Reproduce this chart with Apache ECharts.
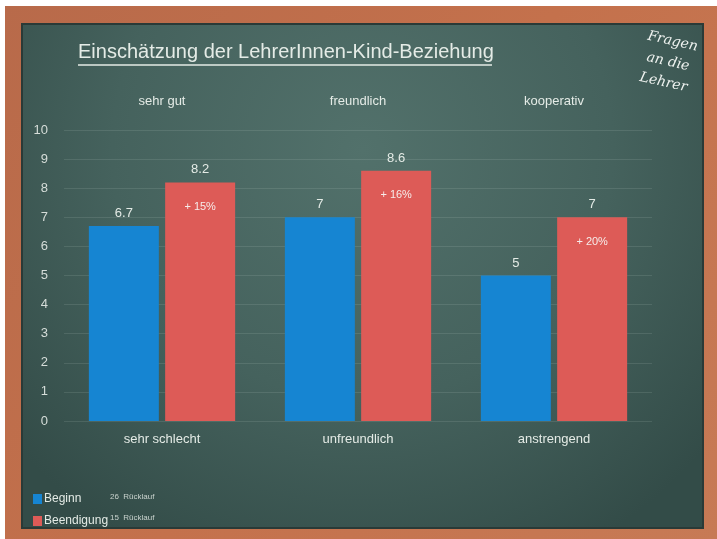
<!DOCTYPE html>
<html>
<head>
<meta charset="utf-8">
<script src="https://cdn.jsdelivr.net/npm/echarts@6/dist/echarts.min.js"></script>
<style>
  html, body { margin: 0; padding: 0; background: #ffffff; }
  #chart { width: 717px; height: 539px; }
</style>
</head>
<body>
<div id="chart"></div>
<script>
// Ratings at the start and at the end, per dimension (scale 0–10)
const lowLabels = ['sehr schlecht', 'unfreundlich', 'anstrengend'];
const highLabels = ['sehr gut', 'freundlich', 'kooperativ'];
const beginValues = [6.7, 7, 5];
const endValues = [8.2, 8.6, 7];
const changeLabels = ['+ 15%', '+ 16%', '+ 20%'];
const seriesNames = ['Beginn', 'Beendigung'];
const returnNotes = ['26  Rücklauf', '15  Rücklauf'];
const yTicks = [0, 1, 2, 3, 4, 5, 6, 7, 8, 9, 10];
// zero-height caps stacked on the end bars carry their value labels
const capValues = [0, 0, 0];

const chalk = '#e4ebe6';
const blue = '#1685d2';
const red = '#dd5b57';

const chart = echarts.init(document.getElementById('chart'));

chart.setOption({
  backgroundColor: '#ffffff',
  animation: false,
  textStyle: { fontFamily: 'Liberation Sans, Arial, sans-serif' },
  graphic: [
    // wooden frame
    { type: 'rect', z: -10, silent: true,
      shape: { x: 5, y: 6, width: 712, height: 533 },
      style: { fill: new echarts.graphic.LinearGradient(0, 0, 1, 1, [
        { offset: 0, color: '#b86a4a' }, { offset: 0.5, color: '#c4714c' }, { offset: 1, color: '#c77a55' }]) } },
    // chalkboard
    { type: 'rect', z: -9, silent: true,
      shape: { x: 22, y: 24, width: 681, height: 504 },
      style: {
        fill: new echarts.graphic.RadialGradient(0.5, 0.25, 0.9, [
          { offset: 0, color: '#52716b' },
          { offset: 0.55, color: '#45625d' },
          { offset: 1, color: '#334c48' }]),
        stroke: '#2a3a37', lineWidth: 2 } },
    // title with underline
    { type: 'text', z: 10, left: 78, top: 42,
      style: { text: 'Einschätzung der LehrerInnen-Kind-Beziehung', fill: chalk,
        font: '20px Liberation Sans, Arial, sans-serif' } },
    { type: 'line', z: 10, silent: true,
      shape: { x1: 78, y1: 65, x2: 492, y2: 65 },
      style: { stroke: chalk, lineWidth: 1.5 } },
    // chalk note in the corner
    { type: 'text', z: 10, x: 668, y: 62, rotation: -0.22, originX: 0, originY: 0,
      style: { text: 'Fragen\nan die\nLehrer', fill: '#eef2ef', align: 'center', verticalAlign: 'middle',
        lineHeight: 21, font: 'italic 14px DejaVu Serif, serif' } },
    // return counts beside the legend
    { type: 'text', z: 10, left: 110, top: 493,
      style: { text: returnNotes[0], fill: '#c9d2cd', font: '8px Liberation Sans, Arial, sans-serif' } },
    { type: 'text', z: 10, left: 110, top: 514,
      style: { text: returnNotes[1], fill: '#c9d2cd', font: '8px Liberation Sans, Arial, sans-serif' } }
  ],
  legend: {
    orient: 'vertical', left: 28, top: 488,
    itemWidth: 9, itemHeight: 10, itemGap: 10, icon: 'rect',
    textStyle: { color: chalk, fontSize: 12, padding: [0, 0, 0, -3] },
    data: seriesNames
  },
  grid: { left: 64, right: 65, top: 130, bottom: 118 },
  xAxis: [
    { type: 'category', data: lowLabels, position: 'bottom',
      axisLine: { show: false }, axisTick: { show: false },
      axisLabel: { color: chalk, fontSize: 13, margin: 12 } },
    { type: 'category', data: highLabels, position: 'top',
      axisLine: { show: false }, axisTick: { show: false },
      axisLabel: { color: chalk, fontSize: 13, margin: 22 } }
  ],
  yAxis: {
    type: 'value', min: yTicks[0], max: yTicks[yTicks.length - 1], interval: 1,
    axisLine: { show: false }, axisTick: { show: false },
    axisLabel: { color: '#d6ddd9', fontSize: 13, margin: 16 },
    splitLine: { lineStyle: { color: 'rgba(210,225,220,0.13)', width: 1 } }
  },
  series: [
    { name: seriesNames[0], type: 'bar', data: beginValues, barWidth: 70, barGap: '9%',
      itemStyle: { color: blue },
      label: { show: true, position: 'top', distance: 6, color: chalk, fontSize: 13 } },
    { name: seriesNames[1], type: 'bar', data: endValues, barWidth: 70, barGap: '9%', stack: 'end',
      itemStyle: { color: red },
      label: { show: true, position: 'insideTop', distance: 19, color: '#f6ecea', fontSize: 11,
        formatter: p => changeLabels[p.dataIndex] } },
    { name: 'endValue', type: 'bar', data: capValues, barWidth: 70, barGap: '9%', stack: 'end',
      itemStyle: { color: 'rgba(0,0,0,0)' }, silent: true,
      label: { show: true, position: 'top', distance: 6, color: chalk, fontSize: 13,
        formatter: p => String(endValues[p.dataIndex]) } }
  ]
});
</script>
</body>
</html>
